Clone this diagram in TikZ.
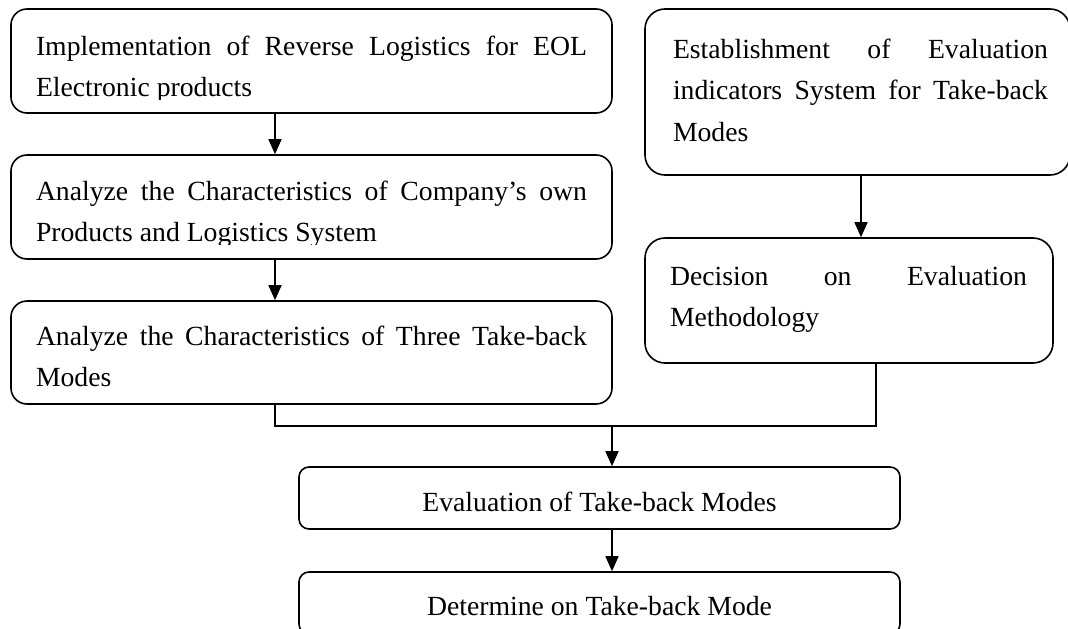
\documentclass[tikz,border=0pt]{standalone}
\usepackage{fontspec}
\setmainfont{Liberation Serif}
\usetikzlibrary{arrows.meta}

% one justified line, stretched to the full paragraph width
\newcommand{\jline}[1]{\makebox[\linewidth][s]{#1}}

\tikzset{
  boxline/.style={draw=black, line width=1.6pt},
  leftbox/.style={boxline, rectangle, rounded corners=16pt, inner sep=0pt},
  rightbox/.style={boxline, rectangle, rounded corners=20pt, inner sep=0pt},
  lowbox/.style={boxline, rectangle, rounded corners=10pt, inner sep=0pt},
  txt/.style={inner sep=0pt, outer sep=0pt, font=\fontsize{27.7pt}{41.5pt}\selectfont},
  link/.style={line width=1.5pt, draw=black},
  arrowlink/.style={link, -{Triangle[length=15pt,width=13pt]}}
}

\begin{document}
\begin{tikzpicture}[x=1pt, y=-1pt]
  \useasboundingbox (0,0) rectangle (1068,629);
  \fill[white] (0,0) rectangle (1068,629);
  \clip (0,0) rectangle (1068,629);

  % guide positions for the connectors
  \coordinate (xl) at (275,0);
  \coordinate (xr) at (861,0);
  \coordinate (xj) at (876,0);
  \coordinate (join) at (612,426);

  % left column
  \node[leftbox, minimum width=601pt, minimum height=104pt] (b1) at (311.5,61) {};
  \node[leftbox, minimum width=601pt, minimum height=104pt] (b2) at (311.5,207) {};
  \node[leftbox, minimum width=601pt, minimum height=103pt] (b3) at (311.5,352.5) {};

  % right column
  \node[rightbox, minimum width=425pt, minimum height=166pt] (r1) at (857.5,92) {};
  \node[rightbox, minimum width=408pt, minimum height=125pt] (r2) at (849,300.5) {};

  % bottom boxes
  \node[lowbox, minimum width=601pt, minimum height=62pt] (ev) at (599.5,498) {};
  \node[lowbox, minimum width=601pt, minimum height=62pt] (det) at (599.5,603) {};

  % box texts
  \begin{scope}
    \clip (11,9) rectangle (612,99);
    \node[txt, anchor=base west] (t1) at (36,55) {\parbox[t]{551pt}{%
      \jline{Implementation of Reverse Logistics for EOL}\\
      Electronic products}};
  \end{scope}
  \begin{scope}
    \clip (11,155) rectangle (612,244);
    \node[txt, anchor=base west] (t2) at (36,200) {\parbox[t]{551pt}{%
      \jline{Analyze the Characteristics of Company’s own}\\
      Products and Logistics System}};
  \end{scope}
  \node[txt, anchor=base west] (t3) at (36,345) {\parbox[t]{551pt}{%
    \jline{Analyze the Characteristics of Three Take-back}\\
    Modes}};
  \node[txt, anchor=base west] (t4) at (673,58) {\parbox[t]{375pt}{%
    \jline{Establishment of Evaluation}\\
    \jline{indicators System for Take-back}\\
    Modes}};
  \node[txt, anchor=base west] (t5) at (670,285) {\parbox[t]{357pt}{%
    \jline{Decision on Evaluation}\\
    Methodology}};
  \node[txt, anchor=base] (t6) at (599.5,511) {Evaluation of Take-back Modes};
  \node[txt, anchor=base] (t7) at (599.5,615) {Determine on Take-back Mode};

  % connectors
  \draw[arrowlink] (b1.south -| xl) -- (b2.north -| xl);
  \draw[arrowlink] (b2.south -| xl) -- (b3.north -| xl);
  \draw[arrowlink] (r1.south -| xr) -- (r2.north -| xr);
  \draw[link] (b3.south -| xl) |- (join -| xj) -- (r2.south -| xj);
  \draw[arrowlink] (join) -- (ev.north -| join);
  \draw[arrowlink] (ev.south -| join) -- (det.north -| join);
\end{tikzpicture}
\end{document}
